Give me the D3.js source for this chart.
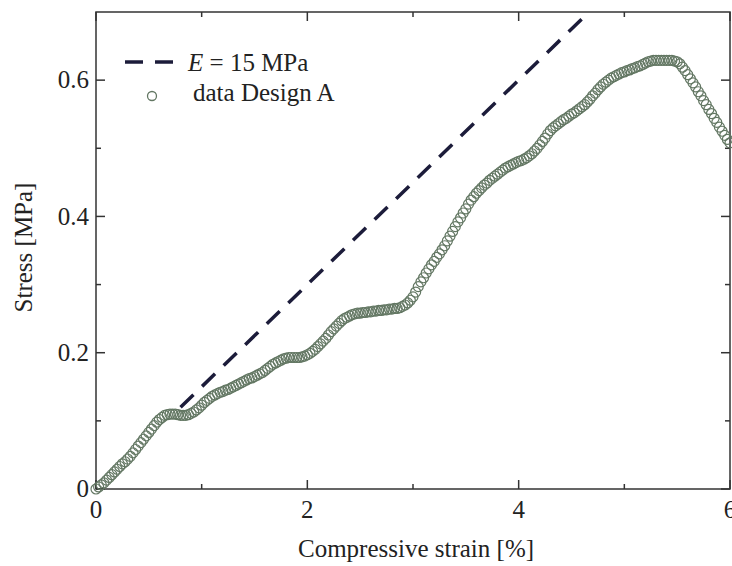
<!DOCTYPE html>
<html>
<head>
<meta charset="utf-8">
<script src="https://cdn.jsdelivr.net/npm/d3@7"></script>
<style>
  body { margin: 0; background: #fff; }
  text { font-family: "Liberation Serif", "Times New Roman", serif; fill: #222; }
</style>
</head>
<body>
<svg id="chart" width="732" height="566"></svg>
<script>
// strain [%] and stress [MPa]
const strain = [
  0.000,0.025,0.050,0.075,0.100,0.125,0.150,0.175,0.200,0.225,0.250,0.275,0.300,0.325,0.350,0.375,0.400,0.425,0.450,0.475,
  0.500,0.525,0.550,0.575,0.600,0.625,0.650,0.675,0.700,0.725,0.750,0.775,0.800,0.825,0.850,0.875,0.900,0.925,0.950,0.975,
  1.000,1.025,1.050,1.075,1.100,1.125,1.150,1.175,1.200,1.225,1.250,1.275,1.300,1.325,1.350,1.375,1.400,1.425,1.450,1.475,
  1.500,1.525,1.550,1.575,1.600,1.625,1.650,1.675,1.700,1.725,1.750,1.775,1.800,1.825,1.850,1.875,1.900,1.925,1.950,1.975,
  2.000,2.025,2.050,2.075,2.100,2.125,2.150,2.175,2.200,2.225,2.250,2.275,2.300,2.325,2.350,2.375,2.400,2.425,2.450,2.475,
  2.500,2.525,2.550,2.575,2.600,2.625,2.650,2.675,2.700,2.725,2.750,2.775,2.800,2.825,2.850,2.875,2.900,2.925,2.950,2.975,
  3.000,3.025,3.050,3.075,3.100,3.125,3.150,3.175,3.200,3.225,3.250,3.275,3.300,3.325,3.350,3.375,3.400,3.425,3.450,3.475,
  3.500,3.525,3.550,3.575,3.600,3.625,3.650,3.675,3.700,3.725,3.750,3.775,3.800,3.825,3.850,3.875,3.900,3.925,3.950,3.975,
  4.000,4.025,4.050,4.075,4.100,4.125,4.150,4.175,4.200,4.225,4.250,4.275,4.300,4.325,4.350,4.375,4.400,4.425,4.450,4.475,
  4.500,4.525,4.550,4.575,4.600,4.625,4.650,4.675,4.700,4.725,4.750,4.775,4.800,4.825,4.850,4.875,4.900,4.925,4.950,4.975,
  5.000,5.025,5.050,5.075,5.100,5.125,5.150,5.175,5.200,5.225,5.250,5.275,5.300,5.325,5.350,5.375,5.400,5.425,5.450,5.475,
  5.500,5.525,5.550,5.575,5.600,5.625,5.650,5.675,5.700,5.725,5.750,5.775,5.800,5.825,5.850,5.875,5.900,5.925,5.950,5.975,
  6.000];
const stress = [
  0.000,0.003,0.006,0.009,0.013,0.017,0.021,0.025,0.029,0.033,0.037,0.040,0.044,0.048,0.053,0.058,0.063,0.068,0.073,0.078,
  0.083,0.088,0.093,0.098,0.102,0.105,0.108,0.109,0.110,0.110,0.110,0.109,0.108,0.108,0.108,0.109,0.111,0.113,0.116,0.119,
  0.123,0.127,0.130,0.133,0.136,0.138,0.140,0.142,0.143,0.145,0.146,0.148,0.150,0.152,0.154,0.156,0.158,0.160,0.162,0.163,
  0.165,0.167,0.169,0.171,0.174,0.177,0.180,0.183,0.185,0.187,0.189,0.191,0.192,0.193,0.193,0.193,0.193,0.193,0.194,0.195,
  0.197,0.199,0.202,0.205,0.209,0.213,0.217,0.221,0.226,0.231,0.235,0.239,0.243,0.247,0.250,0.252,0.254,0.256,0.257,0.258,
  0.258,0.259,0.259,0.260,0.260,0.261,0.261,0.262,0.262,0.263,0.263,0.264,0.264,0.265,0.265,0.266,0.268,0.270,0.273,0.277,
  0.282,0.289,0.297,0.304,0.310,0.317,0.323,0.329,0.334,0.340,0.345,0.351,0.357,0.364,0.371,0.378,0.385,0.392,0.398,0.405,
  0.411,0.418,0.424,0.429,0.434,0.438,0.442,0.446,0.449,0.453,0.456,0.459,0.462,0.465,0.468,0.471,0.473,0.475,0.477,0.479,
  0.481,0.482,0.484,0.486,0.489,0.492,0.496,0.500,0.505,0.510,0.515,0.521,0.526,0.530,0.533,0.536,0.539,0.542,0.544,0.547,
  0.550,0.552,0.555,0.558,0.561,0.564,0.568,0.572,0.577,0.581,0.586,0.590,0.594,0.597,0.600,0.603,0.605,0.607,0.609,0.611,
  0.612,0.614,0.615,0.617,0.618,0.620,0.621,0.623,0.625,0.627,0.628,0.629,0.629,0.629,0.629,0.629,0.629,0.629,0.629,0.628,
  0.627,0.624,0.619,0.614,0.608,0.602,0.596,0.590,0.583,0.577,0.570,0.564,0.557,0.551,0.544,0.538,0.531,0.525,0.519,0.513,
  0.508];

// linear fit E = 15 MPa, drawn from strain 0.8 up to the top of the plot
const modulusE = 15;
const fitStrain = [0.8, 0.7 / (modulusE / 100)];

const xTicks = [0, 2, 4, 6];
const yTicks = [0, 0.2, 0.4, 0.6];
const legendLabels = ["E = 15 MPa", "data Design A"];

const svg = d3.select("#chart");
const m = { left: 96, right: 730, top: 12, bottom: 489 };

const x = d3.scaleLinear().domain([0, 6]).range([m.left, m.right]);
const y = d3.scaleLinear().domain([0, 0.7]).range([m.bottom, m.top]);

const frameColor = "#333";
const markerColor = "#637763";

// frame
svg.append("rect")
  .attr("x", m.left).attr("y", m.top)
  .attr("width", m.right - m.left).attr("height", m.bottom - m.top)
  .attr("fill", "none").attr("stroke", frameColor).attr("stroke-width", 1.5);

// ticks pointing inward on all four sides
const xMinor = [1, 3, 5];
const yMinor = [0.1, 0.3, 0.5];
const tick = svg.append("g").attr("stroke", frameColor).attr("stroke-width", 1.5);
function xTick(v, len) {
  tick.append("line").attr("x1", x(v)).attr("x2", x(v)).attr("y1", m.bottom).attr("y2", m.bottom - len);
  tick.append("line").attr("x1", x(v)).attr("x2", x(v)).attr("y1", m.top).attr("y2", m.top + len);
}
function yTick(v, len) {
  tick.append("line").attr("y1", y(v)).attr("y2", y(v)).attr("x1", m.left).attr("x2", m.left + len);
  tick.append("line").attr("y1", y(v)).attr("y2", y(v)).attr("x1", m.right).attr("x2", m.right - len);
}
xTicks.forEach(v => xTick(v, 9));
xMinor.forEach(v => xTick(v, 5));
yTicks.forEach(v => yTick(v, 9));
yMinor.forEach(v => yTick(v, 5));

// tick labels
svg.append("g").selectAll("text").data(xTicks).join("text")
  .attr("x", d => x(d)).attr("y", 518)
  .attr("text-anchor", "middle").attr("font-size", 25)
  .text(d => d);
svg.append("g").selectAll("text").data(yTicks).join("text")
  .attr("x", 89).attr("y", d => y(d)).attr("dy", "0.33em")
  .attr("text-anchor", "end").attr("font-size", 25)
  .text(d => d === 0 ? "0" : d.toFixed(1));

// axis titles
svg.append("text")
  .attr("x", (m.left + m.right) / 2 + 3).attr("y", 557)
  .attr("text-anchor", "middle").attr("font-size", 25)
  .text("Compressive strain [%]");
svg.append("text")
  .attr("transform", `translate(32,${(m.top + m.bottom) / 2 - 3}) rotate(-90)`)
  .attr("text-anchor", "middle").attr("font-size", 25)
  .text("Stress [MPa]");

// E line
svg.append("line")
  .attr("x1", x(fitStrain[0])).attr("y1", y(fitStrain[0] * modulusE / 100))
  .attr("x2", x(fitStrain[1])).attr("y2", y(fitStrain[1] * modulusE / 100))
  .attr("stroke", "#1c1c3a").attr("stroke-width", 3.5)
  .attr("stroke-dasharray", "18,12");

// data markers
const points = strain.map((s, i) => ({ s: s, v: stress[i] }));
svg.append("g").selectAll("circle").data(points).join("circle")
  .attr("cx", d => x(d.s)).attr("cy", d => y(d.v))
  .attr("r", 5)
  .attr("fill", "none").attr("stroke", markerColor).attr("stroke-width", 1.2);

// legend
const lg = svg.append("g");
lg.append("line")
  .attr("x1", 125).attr("x2", 173).attr("y1", 62).attr("y2", 62)
  .attr("stroke", "#1c1c3a").attr("stroke-width", 3.5)
  .attr("stroke-dasharray", "18,12");
const t1 = lg.append("text").attr("x", 188).attr("y", 71).attr("font-size", 25);
t1.append("tspan").attr("font-style", "italic").text(legendLabels[0].slice(0, 1));
t1.append("tspan").text(legendLabels[0].slice(1));
lg.append("circle")
  .attr("cx", 152).attr("cy", 96).attr("r", 4.5)
  .attr("fill", "none").attr("stroke", markerColor).attr("stroke-width", 1.3);
lg.append("text").attr("x", 193).attr("y", 101).attr("font-size", 25)
  .text(legendLabels[1]);
</script>
</body>
</html>
